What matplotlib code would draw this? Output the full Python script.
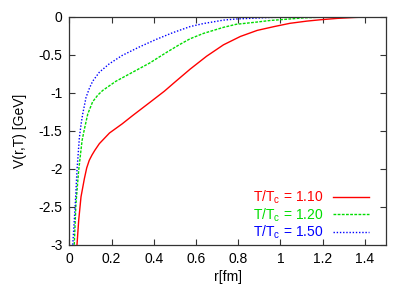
import matplotlib
matplotlib.use("Agg")
import matplotlib.pyplot as plt

# ── data ──────────────────────────────────────────────────────────────────
r_110 = [0.036, 0.044, 0.055, 0.071, 0.082, 0.094, 0.107, 0.12, 0.142, 0.19,
         0.25, 0.30, 0.38, 0.45, 0.50, 0.572, 0.65, 0.73, 0.81, 0.89, 0.97,
         1.045, 1.125, 1.19, 1.27, 1.35, 1.42, 1.5]
v_110 = [-3.0, -2.68, -2.37, -2.13, -1.99, -1.89, -1.82, -1.76, -1.67, -1.53,
         -1.41, -1.30, -1.13, -0.98, -0.86, -0.69, -0.52, -0.37, -0.26, -0.18,
         -0.13, -0.087, -0.058, -0.04, -0.022, -0.01, -0.003, 0.0]

r_120 = [0.023, 0.031, 0.044, 0.06, 0.071, 0.087, 0.11, 0.135, 0.158, 0.22,
         0.30, 0.38, 0.46, 0.52, 0.572, 0.635, 0.73, 0.79, 0.89, 0.95,
         1.045, 1.11, 1.2, 1.3, 1.5]
v_120 = [-3.0, -2.46, -2.02, -1.63, -1.48, -1.28, -1.12, -1.03, -0.97, -0.85,
         -0.73, -0.61, -0.47, -0.37, -0.29, -0.22, -0.14, -0.10, -0.07, -0.05,
         -0.03, -0.015, -0.005, 0.0, 0.0]

r_150 = [0.016, 0.028, 0.036, 0.047, 0.055, 0.063, 0.079, 0.095, 0.11, 0.142,
         0.189, 0.25, 0.33, 0.41, 0.49, 0.572, 0.635, 0.73, 0.79, 0.95,
         1.1, 1.5]
v_150 = [-3.0, -2.46, -2.02, -1.60, -1.42, -1.28, -1.06, -0.94, -0.85, -0.73,
         -0.62, -0.51, -0.40, -0.30, -0.21, -0.13, -0.09, -0.045, -0.03, -0.01,
         0.0, 0.0]

labels = [r"T/T$_{\mathrm{c}}$ = 1.10", r"T/T$_{\mathrm{c}}$ = 1.20",
          r"T/T$_{\mathrm{c}}$ = 1.50"]
colors = ["#ff0000", "#00dd00", "#0000ff"]
styles = ["-", (0, (2, 1)), (0, (1, 1.3))]

x_ticks = [0, 0.2, 0.4, 0.6, 0.8, 1, 1.2, 1.4]
x_labels = ["0", "0.2", "0.4", "0.6", "0.8", "1", "1.2", "1.4"]
y_ticks = [0, -0.5, -1, -1.5, -2, -2.5, -3]
y_labels = ["0", "-0.5", "-1", "-1.5", "-2", "-2.5", "-3"]

plt.rcParams["font.family"] = ["Liberation Sans", "DejaVu Sans"]
plt.rcParams["mathtext.fontset"] = "custom"
plt.rcParams["mathtext.rm"] = "Liberation Sans"
plt.rcParams["mathtext.it"] = "Liberation Sans:italic"

fig = plt.figure(figsize=(4.09, 2.86), dpi=100)
ax = fig.add_axes([69.4 / 409, 1 - 244.7 / 286, (386 - 69.4) / 409, (244.7 - 16.7) / 286])

for (r, v), lab, c, ls in zip([(r_110, v_110), (r_120, v_120), (r_150, v_150)],
                              labels, colors, styles):
    ax.plot(r, v, color=c, linestyle=ls, linewidth=1.0, label=lab)

ax.set_xlim(0, 1.5)
ax.set_ylim(-3, 0)
ax.set_xticks(x_ticks)
ax.set_xticklabels(x_labels)
ax.set_yticks(y_ticks)
ax.set_yticklabels(y_labels)
ax.tick_params(direction="in", length=4, width=0.8, top=True, right=True,
               labelsize=10, pad=5, colors="#333333", labelcolor="black")
for s in ax.spines.values():
    s.set_linewidth(0.9)
    s.set_color("#333333")

ax.set_xlabel("r[fm]", fontsize=10, labelpad=3)
ax.set_ylabel("V(r,T) [GeV]", fontsize=10, labelpad=8)

leg = ax.legend(loc="lower right", bbox_to_anchor=(369 / 409, 1 - 241 / 286),
                bbox_transform=fig.transFigure, frameon=False, fontsize=10,
                markerfirst=False, borderpad=0, borderaxespad=0,
                handlelength=2.6, handletextpad=0.7, labelspacing=0.0)
for txt, c in zip(leg.get_texts(), colors):
    txt.set_color(c)

fig.savefig("out.png", dpi=100)
